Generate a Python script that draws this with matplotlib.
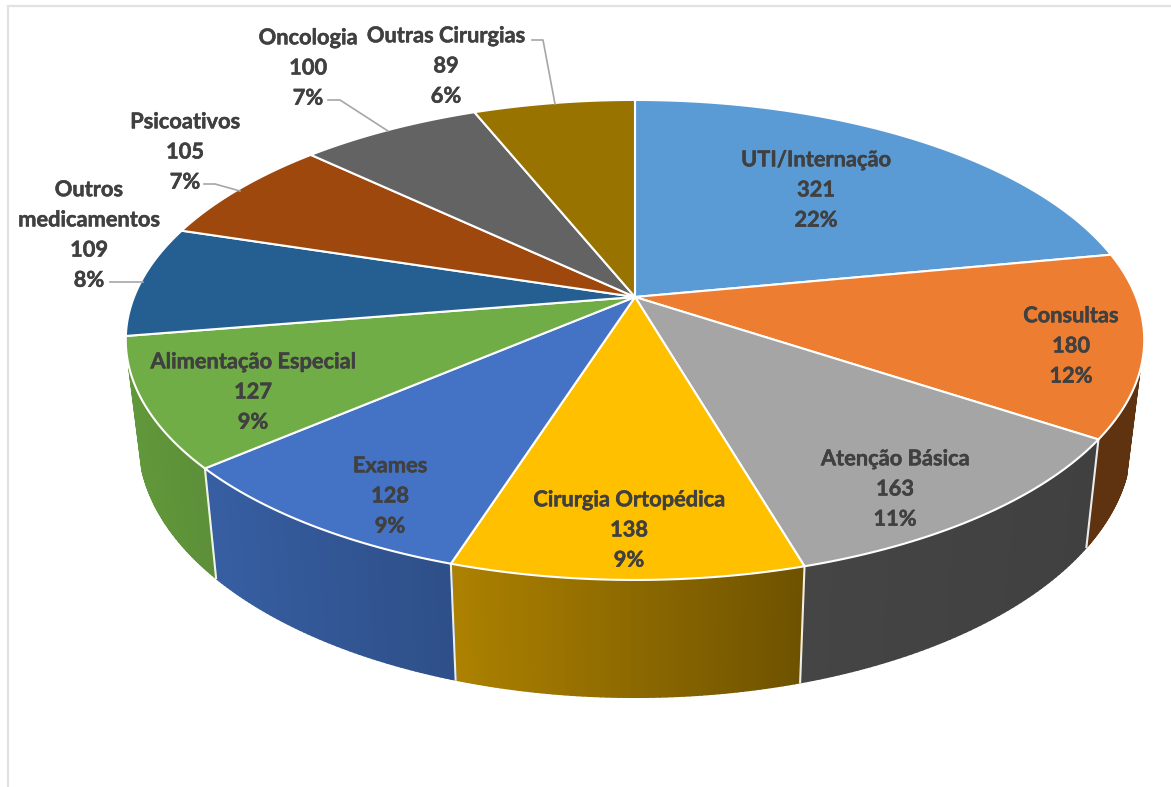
import numpy as np
import matplotlib
matplotlib.use("Agg")
import matplotlib.pyplot as plt
import matplotlib.patheffects as pe
from matplotlib.collections import PolyCollection
from matplotlib.colors import to_rgb

# --- data ---
categories = ["UTI/Internação", "Consultas", "Atenção Básica", "Cirurgia Ortopédica", "Exames",
              "Alimentação Especial", "Outros\nmedicamentos", "Psicoativos", "Oncologia", "Outras Cirurgias"]
values = [321, 180, 163, 138, 128, 127, 109, 105, 100, 89]
percents = ["22%", "12%", "11%", "9%", "9%", "9%", "8%", "7%", "7%", "6%"]

# --- styles ---
top_colors = ["#5B9BD5", "#ED7D31", "#A5A5A5", "#FFC000", "#4472C4",
              "#70AD47", "#255E91", "#9E480E", "#636363", "#997300"]
wall_left = ["#5B9BD5", "#5F3210", "#454545", "#AE8200", "#375FA3", "#62983B", "#255E91", "#9E480E", "#636363", "#997300"]
wall_right = ["#5B9BD5", "#5F3210", "#404040", "#6E5200", "#2E4F88", "#5C8F38", "#255E91", "#9E480E", "#636363", "#997300"]
label_xy = [(816, 190), (1071, 346), (895, 489), (629, 530), (390, 496),
            (253, 392), (89, 235), (185, 152), (308, 68), (446, 66)]
leaders = [([110, 143], [282, 282]),
           ([204, 215, 240], [184, 184, 191]),
           ([328, 340, 388], [100, 100, 131]),
           ([532, 543, 555], [40, 40, 104])]
TEXT = "#404040"
LEADER = "#A6A6A6"
BORDER = "#E2E2E2"

# projection of the pie discs into the picture
CX, K = 635.0, 0.179
TOP = dict(a=501.0, b=232.3, y0=297.0)
BOT = dict(a=488.0, b=248.0, y0=395.0)
WALL_FROM, WALL_TO = 108.0, 253.5


def project(deg, disc):
    t = np.radians(deg)
    u, v = np.sin(t), np.cos(t)
    w = 1 + K * v
    return CX + disc["a"] * u / w, disc["y0"] - disc["b"] * v / w


edges = np.concatenate([[0], np.cumsum(values)]) / np.sum(values) * 360.0

fig = plt.figure(figsize=(11.71, 7.87), dpi=100)
ax = fig.add_axes([0, 0, 1, 1])
ax.set_xlim(0, 1171)
ax.set_ylim(787, 0)
ax.axis("off")

# frame
ax.plot([8, 8, 1171], [787, 6, 6], color=BORDER, lw=1.6, solid_joinstyle="miter", zorder=1)

# side walls
for i in range(len(values)):
    a0, a1 = max(edges[i], WALL_FROM), min(edges[i + 1], WALL_TO)
    if a1 <= a0:
        continue
    ang = np.linspace(a0, a1, 60)
    xt, yt = project(ang, TOP)
    xb, yb = project(ang, BOT)
    quads, cols = [], []
    xmin, xmax = min(xt.min(), xb.min()), max(xt.max(), xb.max())
    c0, c1 = np.array(to_rgb(wall_left[i])), np.array(to_rgb(wall_right[i]))
    for j in range(len(ang) - 1):
        quads.append([(xt[j], yt[j]), (xt[j + 1], yt[j + 1]), (xb[j + 1], yb[j + 1]), (xb[j], yb[j])])
        f = ((xt[j] + xb[j]) / 2 - xmin) / (xmax - xmin)
        cols.append(c0 + (c1 - c0) * f)
    ax.add_collection(PolyCollection(quads, facecolors=cols, edgecolors=cols, linewidths=1.4, zorder=2))

# white separators between wall pieces
for a in edges[1:-1]:
    if WALL_FROM <= a <= WALL_TO:
        xt, yt = project(a, TOP)
        xb, yb = project(a, BOT)
        ax.plot([xt, xb], [yt, yb], color="white", lw=1.5, alpha=0.9, zorder=3)

# top face
for i in range(len(values)):
    ang = np.linspace(edges[i], edges[i + 1], 120)
    x, y = project(ang, TOP)
    ax.fill(np.r_[CX, x], np.r_[TOP["y0"], y], facecolor=top_colors[i], edgecolor="white",
            linewidth=1.5, joinstyle="round", zorder=4)

# leader lines
for lx, ly in leaders:
    ax.plot(lx, ly, color=LEADER, lw=1.2, zorder=5)

# data labels
for name, val, pct, (x, y) in zip(categories, values, percents, label_xy):
    ax.text(x, y, f"{name}\n{val}\n{pct}", ha="center", va="center", multialignment="center",
            family="Lato", weight="bold", fontsize=15.7, color=TEXT, linespacing=1.54, zorder=6,
            path_effects=[pe.withStroke(linewidth=0.35, foreground=TEXT)])

fig.savefig("out.png", dpi=100, facecolor="white")
